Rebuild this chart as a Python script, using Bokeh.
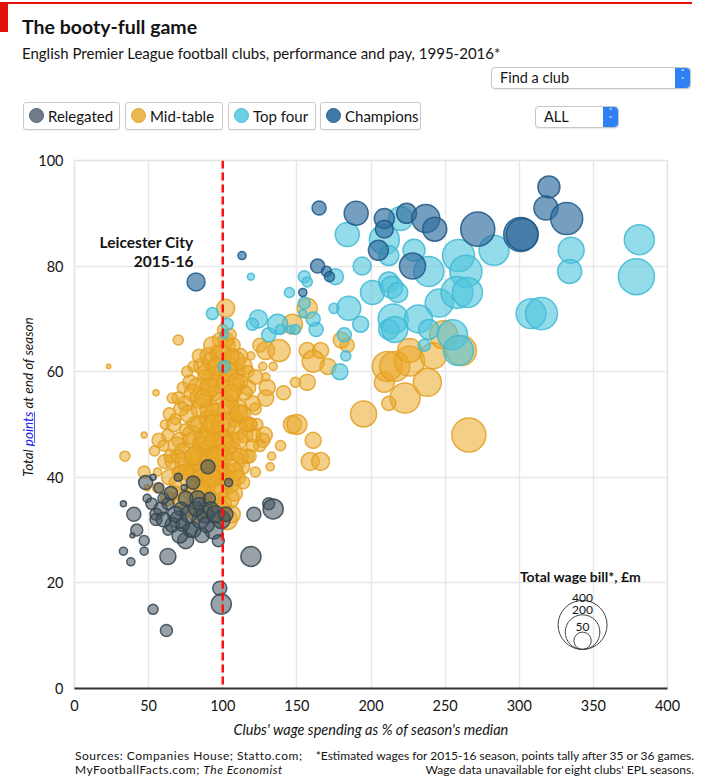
import math
from bokeh.plotting import figure
from bokeh.models import Range1d, ColumnDataSource, Label, Span, Div
from bokeh.layouts import column, row
from bokeh.embed import file_html
from bokeh.resources import INLINE

# ---------------- data ----------------
x_ticks = [0, 50, 100, 150, 200, 250, 300, 350, 400]
y_ticks = [0, 20, 40, 60, 80, 100]
legend_values = [400, 200, 50]
categories = ["Relegated", "Mid-table", "Top four", "Champions"]

# Mid-table: wage % of season median, points, wage bill (GBP m)
mid_x = [266, 195, 223, 238, 212, 209, 211, 216, 226, 226, 242, 249, 261, 180, 184, 157, 166, 161, 171, 157,
         149, 141, 134, 127, 129, 130, 129, 125, 129, 138, 147, 157, 147, 150, 161, 139, 159, 166, 133, 132,
         128, 127, 125, 122, 123, 122, 121, 23, 55, 70, 47, 102, 90, 103, 107, 119, 97, 34, 47, 56,
         54, 57, 56, 49, 61, 63, 103, 101,
         86, 92, 100, 104, 110, 94, 88, 114,
         78, 83, 90, 97, 102, 107, 112, 117, 73,
         70, 75, 80, 85, 91, 95, 100, 105, 110, 115, 120, 66,
         64, 68, 72, 77, 81, 86, 90, 95, 99, 104, 108, 113, 118, 61,
         63, 67, 71, 75, 79, 84, 88, 92, 97, 101, 106, 110, 115, 119,
         60, 65, 69, 73, 78, 82, 86, 90, 94, 98, 102, 106, 111, 116, 120,
         66, 70, 74, 79, 83, 87, 91, 95, 99, 103, 108, 113, 118,
         64, 68, 72, 77, 81, 85, 89, 93, 97, 101, 105, 110, 114,
         67, 72, 78, 83, 87, 92, 96, 100, 104, 108,
         76, 82, 88, 94, 98, 106,
         98, 95, 100, 105, 84, 112, 108, 117, 122, 76, 80,
         93, 99, 104, 89, 96, 102, 106, 91, 87, 109, 111, 94, 89, 96, 84, 100, 92, 86, 80, 75,
         70, 108, 112, 116, 106]
mid_y = [48, 52, 55, 58, 54, 58, 61, 61, 62, 64, 63, 67, 64, 66, 65, 64, 64, 62, 61, 58,
         58, 56, 61, 61, 59, 57, 55, 65, 64, 64, 69, 72, 50, 50, 47, 46, 43, 43, 44, 42,
         48, 47, 46, 53, 50, 41, 48, 61, 56, 66, 48, 72, 63, 65, 65, 63, 60, 44, 41, 41,
         45, 47, 38, 38, 43, 36, 32, 35,
         61, 62, 62, 61, 60, 59, 59, 61,
         58, 57, 57, 58, 58, 57, 58, 57, 57,
         55, 54, 56, 55, 53, 56, 54, 55, 53, 56, 54, 55,
         52, 51, 53, 52, 50, 53, 51, 52, 50, 53, 51, 52, 50, 50,
         48, 50, 47, 49, 48, 50, 47, 49, 48, 50, 47, 49, 48, 50,
         46, 44, 46, 45, 47, 44, 46, 45, 47, 44, 46, 45, 47, 44, 46,
         43, 41, 43, 42, 44, 41, 43, 42, 44, 41, 43, 42, 44,
         40, 39, 41, 40, 41, 40, 39, 40, 41, 40, 39, 40, 39,
         37, 36, 37, 38, 37, 36, 37, 38, 36, 37,
         34, 33, 34, 33, 34, 33,
         66, 64, 68, 67, 63, 63, 62, 60, 59, 60, 61,
         65, 63, 60, 60, 61, 66, 63, 57, 55, 58, 52, 50, 47, 44, 43, 47, 40, 38, 44, 41,
         44, 41, 44, 50, 56]
mid_w = [193, 113, 150, 131, 33, 67, 150, 150, 150, 96, 113, 131, 150, 43, 33, 43, 43, 81, 43, 43,
         17, 33, 11, 11, 11, 43, 43, 33, 54, 81, 67, 67, 54, 67, 43, 17, 54, 54, 11, 11,
         43, 33, 24, 24, 24, 17, 33, 3, 6, 17, 6, 54, 43, 43, 33, 11, 43, 17, 24, 11,
         17, 33, 17, 6, 33, 33, 67, 33,
         45, 50, 35, 60, 40, 70, 35, 50,
         35, 60, 50, 75, 50, 70, 35, 40, 20,
         25, 40, 50, 70, 60, 40, 85, 50, 60, 35, 40, 18,
         25, 20, 35, 50, 40, 75, 50, 70, 60, 75, 40, 50, 35, 14,
         24, 35, 40, 25, 60, 50, 85, 70, 60, 90, 50, 70, 40, 25,
         20, 30, 50, 40, 35, 70, 60, 75, 50, 85, 70, 60, 50, 35, 25,
         35, 25, 60, 50, 40, 70, 85, 60, 75, 50, 70, 40, 30,
         40, 25, 35, 60, 50, 40, 75, 60, 70, 50, 70, 40, 25,
         40, 50, 35, 70, 50, 40, 75, 60, 70, 40,
         35, 40, 50, 35, 60, 50,
         35, 20, 18, 25, 30, 35, 70, 25, 35, 20, 18,
         50, 70, 60, 45, 55, 40, 35, 60, 50, 45, 55, 70, 60, 70, 55, 65, 60, 45, 50, 40,
         30, 50, 40, 35, 50]

rel_x = [99, 98, 53, 62, 119, 63, 33, 38, 47, 47, 42, 39, 40, 33, 48, 49, 53, 57, 55, 55,
         63, 63, 70, 74, 72, 75, 78, 90, 91, 94, 97, 104, 121, 131, 134, 99, 83, 85, 80, 75,
         70, 66, 58, 80, 88, 92, 68, 86, 73, 102, 77, 82, 89, 95, 60, 65, 84, 71, 60, 52]
rel_y = [16, 19, 15, 11, 25, 25, 26, 24, 26, 28, 30, 29, 33, 35, 39, 36, 40, 38, 33, 32,
         35, 30, 40, 38, 34, 28, 30, 42, 36, 30, 28, 39, 33, 35, 34, 32, 36, 32, 39, 36,
         32, 31, 34, 30, 33, 34, 33, 29, 31, 33, 33, 34, 31, 33, 36, 37, 35, 29, 32, 35]
rel_w = [67, 33, 17, 24, 67, 43, 11, 11, 11, 17, 24, 4, 33, 6, 33, 11, 6, 17, 24, 24,
         24, 17, 11, 6, 33, 43, 33, 33, 24, 54, 24, 11, 33, 24, 67, 54, 40, 50, 30, 35,
         50, 35, 30, 40, 50, 35, 40, 35, 30, 35, 45, 35, 40, 50, 20, 30, 25, 40, 35, 22]

top_x = [184, 220, 209, 212, 229, 239, 259, 264, 283, 335, 334, 381, 379, 308, 315, 194, 176, 155, 157, 201,
         212, 214, 218, 246, 258, 265, 185, 193, 215, 232, 212, 216, 239, 255, 259, 236, 182, 183, 179, 163,
         161, 93, 103, 101, 101, 119, 145, 155, 124, 120, 131, 137, 139, 146, 149, 175, 154]
top_y = [86, 89, 85, 82, 83, 79, 82, 79, 83, 83, 79, 85, 78, 71, 71, 80, 78, 78, 77, 75,
         77, 76, 75, 73, 75, 75, 72, 69, 70, 70, 68, 68, 68, 67, 64, 65, 67, 63, 60, 68,
         70, 71, 69, 67, 61, 78, 75, 73, 70, 69, 67, 69, 68, 68, 68, 72, 71]
top_w = [96, 96, 150, 67, 81, 150, 171, 171, 150, 113, 96, 150, 216, 150, 171, 54, 43, 24, 17, 96,
         67, 81, 67, 131, 171, 150, 96, 43, 150, 131, 67, 113, 67, 150, 150, 24, 33, 17, 43, 33,
         33, 24, 24, 11, 24, 8, 17, 24, 54, 24, 33, 67, 17, 11, 17, 17, 11]

champ_x = [82, 165, 113, 190, 209, 209, 224, 237, 243, 205, 228, 272, 301, 302, 320, 318, 332, 164, 170, 172, 154]
champ_y = [77, 91, 82, 90, 89, 87, 90, 89, 87, 83, 80, 87, 86, 86, 95, 91, 89, 80, 79, 78, 75]
champ_w = [54, 33, 11, 96, 67, 54, 67, 131, 96, 67, 113, 193, 193, 171, 81, 96, 171, 33, 17, 17, 11]

# ---------------- layout constants (page px) ----------------
FONT = "Lato"
TXT = "#141414"
HEADER_H = 140
YLAB_W = 34
FIG_W, FIG_H = 666, 600
FOOT_H = 42
FRAME_L, FRAME_T, FRAME_R, FRAME_B = 74, 160, 667, 688   # page coords of plot area
SIZE_K = 2.45  # bubble diameter px per sqrt(GBP m)
px_per_pt = (FRAME_B - FRAME_T) / 100.0

p = figure(width=FIG_W, height=FIG_H, x_range=Range1d(0, 400), y_range=Range1d(0, 100),
           output_backend="svg", toolbar_location=None,
           min_border_left=FRAME_L - YLAB_W, min_border_right=(YLAB_W + FIG_W) - FRAME_R,
           min_border_top=FRAME_T - HEADER_H, min_border_bottom=(HEADER_H + FIG_H) - FRAME_B,
           background_fill_color="white", border_fill_color="white",
           outline_line_color="#e4e4e4", outline_line_width=1.5, margin=0)

p.xaxis.ticker = x_ticks
p.yaxis.ticker = y_ticks
p.xgrid.grid_line_color = "#e8e8e8"
p.ygrid.grid_line_color = "#e8e8e8"
p.xgrid.grid_line_width = 1.5
p.ygrid.grid_line_width = 1.5

for ax in (p.xaxis, p.yaxis):
    ax.major_tick_line_color = None
    ax.minor_tick_line_color = None
    ax.major_label_text_font = FONT
    ax.major_label_text_font_size = "14.5px"
    ax.major_label_text_color = TXT
p.xaxis.axis_line_color = "#333333"
p.xaxis.axis_line_width = 2
p.yaxis.axis_line_color = None
p.xaxis.major_label_standoff = 5
p.yaxis.major_label_standoff = 5
p.xaxis.axis_label = "Clubs' wage spending as % of season's median"
p.xaxis.axis_label_text_font = FONT
p.xaxis.axis_label_text_font_size = "14.5px"
p.xaxis.axis_label_text_font_style = "italic"
p.xaxis.axis_label_text_color = TXT
p.xaxis.axis_label_standoff = 7


def add_cat(xs, ys, ws, fill, line, alpha, name):
    src = ColumnDataSource(dict(x=xs, y=ys, w=ws, s=[SIZE_K * math.sqrt(v) for v in ws]))
    p.scatter("x", "y", size="s", source=src, fill_color=fill, fill_alpha=alpha,
              line_color=line, line_alpha=0.85, line_width=1.5, name=name)


add_cat(mid_x, mid_y, mid_w, "#e9a727", "#e2a022", 0.55, categories[1])
add_cat(rel_x, rel_y, rel_w, "#42535f", "#34444f", 0.55, categories[0])
add_cat(top_x, top_y, top_w, "#4ec5dd", "#40b9d3", 0.6, categories[2])
add_cat(champ_x, champ_y, champ_w, "#2d6c9c", "#1d5786", 0.65, categories[3])

p.add_layout(Span(location=100, dimension="height", line_color="#ff1010",
                  line_dash="8 4", line_width=2.5))

# Leicester annotation
for s, yv in (("Leicester City", 84.6), ("2015-16", 80.8)):
    p.add_layout(Label(x=80.3, y=yv, text=s, text_font=FONT, text_font_size="15.5px",
                       text_font_style="bold", text_align="right", text_baseline="middle",
                       text_color=TXT))

# bubble-size legend
leg_x, leg_base = 342.7, 7.4
leg_sizes = [SIZE_K * math.sqrt(v) for v in legend_values]
leg_yc = [leg_base + s / 2 / px_per_pt for s in leg_sizes]
p.scatter(x=[leg_x] * len(legend_values), y=leg_yc, size=leg_sizes, fill_color=None,
          line_color="#444444", line_width=1)
p.add_layout(Label(x=341.3, y=21.2, text="Total wage bill*, £m", text_font=FONT,
                   text_font_size="14px", text_font_style="bold", text_align="center",
                   text_baseline="middle", text_color=TXT))
for v, yv in zip(legend_values, (17.2, 14.8, 11.7)):
    p.add_layout(Label(x=leg_x, y=yv, text=str(v), text_font=FONT, text_font_size="12px",
                       text_align="center", text_baseline="middle", text_color=TXT))

# ---------------- HTML parts ----------------
RED = "#e3120b"
BLUE = "#2f7ff5"
dot_cols = [("#6f7c87", "#55626d"), ("#ecb74f", "#dda438"), ("#6bd0e3", "#4cbcd4"), ("#3e79a6", "#2b6391")]
btn_pos = [(23, 97), (125, 98), (228, 88), (320, 101)]


def abs_div(l, t, inner, extra=""):
    return f'<div style="position:absolute;left:{l}px;top:{t}px;{extra}">{inner}</div>'


def select_box(l, t, w, h, label):
    chev = (f'<div style="position:absolute;right:0;top:0;width:15px;height:100%;background:{BLUE};'
            f'border-radius:0 4px 4px 0;color:white;font-family:\'DejaVu Sans\';font-size:8px;'
            f'line-height:8px;text-align:center;padding-top:2px;box-sizing:border-box">&#x2C4;<br>&#x2C5;</div>')
    return (f'<div style="position:absolute;left:{l}px;top:{t}px;width:{w}px;height:{h}px;'
            f'box-sizing:border-box;border:1px solid #c8c8c8;border-radius:4px;background:white;'
            f'box-shadow:0 1px 1px rgba(0,0,0,0.08);">'
            f'<div style="position:absolute;left:8px;top:0;line-height:{h-2}px;font-size:14.5px">{label}</div>'
            f'{chev}</div>')


parts = [
    f'<div style="position:relative;width:702px;height:{HEADER_H}px;font-family:{FONT};color:{TXT};">',
    f'<div style="position:absolute;left:0;top:2px;width:692px;height:2px;background:{RED}"></div>',
    f'<div style="position:absolute;left:0;top:2px;width:8px;height:30px;background:{RED}"></div>',
    abs_div(22, 14, "The booty-full game", "font-size:19.5px;font-weight:bold;line-height:26px;white-space:nowrap"),
    abs_div(22, 43, "English Premier League football clubs, performance and pay, 1995-2016*",
            "font-size:15px;line-height:20px;white-space:nowrap"),
    select_box(491, 67, 200, 22, "Find a club"),
    select_box(535, 106, 84, 22, "ALL"),
]
for (bl, bw), name, (dc, dl) in zip(btn_pos, categories, dot_cols):
    parts.append(
        f'<div style="position:absolute;left:{bl}px;top:102px;width:{bw}px;height:28px;box-sizing:border-box;'
        f'border:1px solid #c9c9c9;border-radius:3px;background:white;box-shadow:0 1px 1px rgba(0,0,0,0.06)">'
        f'<div style="position:absolute;left:5px;top:5px;width:15px;height:15px;border-radius:50%;'
        f'background:{dc};border:1.5px solid {dl};box-sizing:border-box"></div>'
        f'<div style="position:absolute;left:24px;top:0;line-height:26px;font-size:15px;white-space:nowrap">{name}</div>'
        f'</div>')
parts.append('</div>')
header = Div(text="".join(parts), width=702, height=HEADER_H, margin=0)

ylab_html = (f'<div style="position:relative;width:{YLAB_W}px;height:{FIG_H}px;font-family:{FONT};color:{TXT};">'
             f'<div style="position:absolute;left:28px;top:{397 - HEADER_H}px;transform:translate(-50%,-50%) rotate(-90deg);'
             f'white-space:nowrap;font-size:13.5px;font-style:italic;line-height:16px">'
             f'Total <span style="color:#1a1aee;text-decoration:underline">points</span> at end of season</div></div>')
ylab = Div(text=ylab_html, width=YLAB_W, height=FIG_H, margin=0)

foot_top = HEADER_H + FIG_H
foot_html = (f'<div style="position:relative;width:702px;height:{FOOT_H}px;font-family:{FONT};color:{TXT};line-height:14px;font-size:12px">'
             f'<div style="position:absolute;left:75px;top:{749 - foot_top}px;white-space:nowrap;letter-spacing:0.5px">Sources: Companies House; Statto.com;<br>'
             f'MyFootballFacts.com; <i>The Economist</i></div>'
             f'<div style="position:absolute;right:8px;top:{749 - foot_top}px;white-space:nowrap;text-align:right">'
             f'*Estimated wages for 2015-16 season, points tally after 35 or 36 games.<br>'
             f'Wage data unavailable for eight clubs\' EPL seasons.</div></div>')
footer = Div(text=foot_html, width=702, height=FOOT_H, margin=0)

layout = column(header, row(ylab, p, margin=0, spacing=0), footer, margin=0, spacing=0)

open("out.html", "w").write(file_html(layout, INLINE))
